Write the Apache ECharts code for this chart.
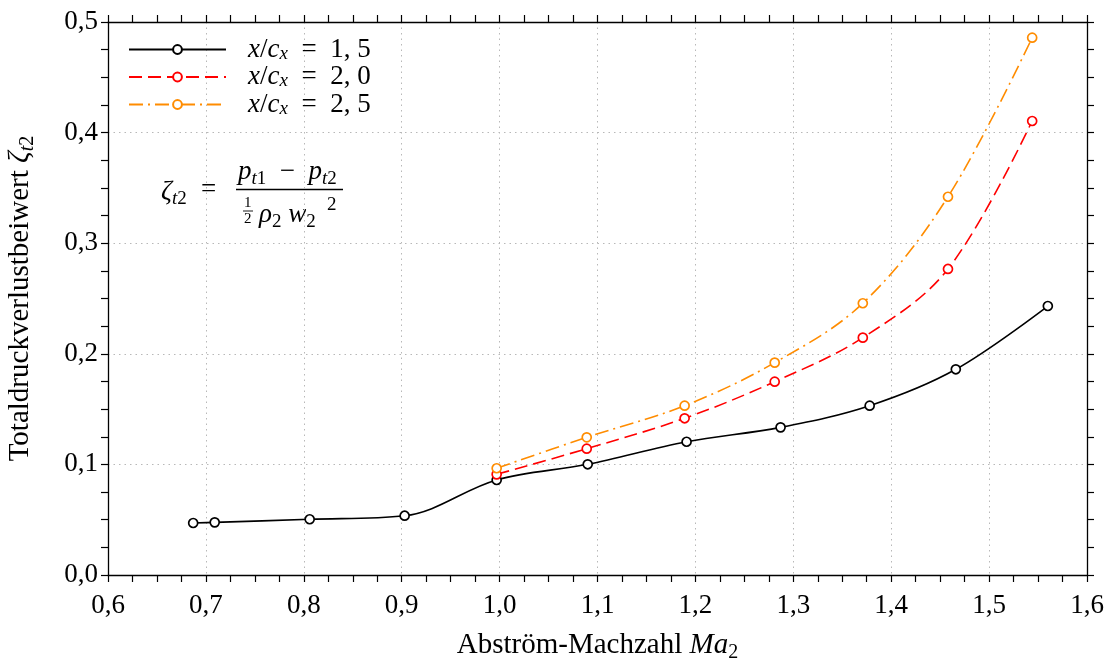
<!DOCTYPE html>
<html>
<head>
<meta charset="utf-8">
<script src="https://cdn.jsdelivr.net/npm/echarts@6/dist/echarts.min.js"></script>
<style>
  html, body { margin: 0; padding: 0; background: #fff; }
  #chart { width: 1114px; height: 660px; }
</style>
</head>
<body>
<div id="chart"></div>
<script>
// Total pressure loss coefficient over exit Mach number, three axial positions
const machA = [0.687, 0.709, 0.806, 0.903, 0.997, 1.090, 1.191, 1.287, 1.378, 1.466, 1.560];
const zetaA = [0.047, 0.0476, 0.0504, 0.0536, 0.0859, 0.1001, 0.1205, 0.1335, 0.1531, 0.1860, 0.2432];
const machB = [0.997, 1.089, 1.189, 1.281, 1.371, 1.458, 1.544];
const zetaB = [0.091, 0.1142, 0.1417, 0.1748, 0.2146, 0.2767, 0.4105];
const machC = [0.997, 1.089, 1.189, 1.281, 1.371, 1.458, 1.544];
const zetaC = [0.0965, 0.1245, 0.1531, 0.1920, 0.2457, 0.3420, 0.4858];
const seriesNames = ['1,5', '2,0', '2,5'];

const FONT = 'Liberation Serif';
const FS = 27;
const pairs = (xs, ys) => xs.map((x, i) => [x, ys[i]]);
const comma = v => (Math.round(v * 10) / 10).toFixed(1).replace('.', ',');

const chart = echarts.init(document.getElementById('chart'), null, { renderer: 'canvas' });

// rich-text styles for roman, italic, subscript
function makeRich(fs, lh, subFs, subLh) {
  return {
    r: { fontFamily: FONT, fontSize: fs, color: '#000', lineHeight: lh, verticalAlign: 'middle' },
    i: { fontFamily: FONT, fontSize: fs, fontStyle: 'italic', color: '#000', lineHeight: lh, verticalAlign: 'middle' },
    s: { fontFamily: FONT, fontSize: subFs, color: '#000', lineHeight: subLh, verticalAlign: 'bottom' },
    si: { fontFamily: FONT, fontSize: subFs, fontStyle: 'italic', color: '#000', lineHeight: subLh, verticalAlign: 'bottom' },
    sp: { width: 17, lineHeight: lh }
  };
}
const rich = makeRich(FS, 34, 19, 22);
const nameRich = makeRich(29, 36, 20, 23);
const legendRich = makeRich(FS, 27, 19, 18);

function lineSeries(name, data, color, type) {
  return {
    name: name,
    type: 'line',
    data: data,
    smooth: 0.35,
    symbol: 'circle',
    symbolSize: 9,
    showSymbol: true,
    lineStyle: { color: color, width: 1.6, type: type },
    itemStyle: { color: '#fff', borderColor: color, borderWidth: 1.7 },
    emphasis: { disabled: true },
    z: 3
  };
}

function frameAxis(extra) {
  return Object.assign({
    type: 'value',
    axisLine: { show: true, onZero: false, lineStyle: { color: '#000', width: 1.3 } },
    axisTick: { show: true, inside: false, length: 7, lineStyle: { color: '#000', width: 1.2 } },
    minorTick: { show: true, splitNumber: 4, length: 7, lineStyle: { color: '#000', width: 1.2 } },
    axisLabel: { show: false },
    splitLine: { show: false }
  }, extra);
}

const gridLine = { show: true, lineStyle: { color: '#b8b8b8', width: 1, type: [1.5, 4] } };

const option = {
  animation: false,
  backgroundColor: '#fff',
  grid: { left: 108, right: 27, top: 22, bottom: 85, containLabel: false, outerBoundsMode: 'none' },
  legend: {
    left: 123,
    top: 31,
    orient: 'vertical',
    itemWidth: 97,
    itemHeight: 11,
    itemGap: 0.5,
    selectedMode: false,
    data: seriesNames,
    formatter: n => '{sp|}{i|x}{r|/}{i|c}{si|x}{r|  =  ' + n.replace(',', ', ') + '}',
    textStyle: { rich: legendRich }
  },
  xAxis: [
    frameAxis({
      min: 0.6, max: 1.6, interval: 0.1, position: 'bottom',
      axisLabel: { show: true, formatter: comma, fontFamily: FONT, fontSize: FS, color: '#000', margin: 17 },
      splitLine: gridLine,
      name: '{r|Abström-Machzahl }{i|Ma}{s|2}',
      nameLocation: 'middle',
      nameGap: 52,
      nameTextStyle: { rich: nameRich }
    }),
    frameAxis({ min: 0.6, max: 1.6, interval: 0.1, position: 'top' })
  ],
  yAxis: [
    frameAxis({
      min: 0, max: 0.5, interval: 0.1, position: 'left',
      axisLabel: { show: true, formatter: comma, fontFamily: FONT, fontSize: FS, color: '#000', margin: 10 },
      splitLine: gridLine,
      name: '{r|Totaldruckverlustbeiwert }{i|ζ}{si|t}{s|2}',
      nameLocation: 'middle',
      nameRotate: 90,
      nameGap: 70,
      nameTextStyle: { rich: nameRich }
    }),
    frameAxis({ min: 0, max: 0.5, interval: 0.1, position: 'right' })
  ],
  series: [
    lineSeries(seriesNames[0], pairs(machA, zetaA), '#000000', 'solid'),
    lineSeries(seriesNames[1], pairs(machB, zetaB), '#ff0000', [13, 6]),
    lineSeries(seriesNames[2], pairs(machC, zetaC), '#ff8c00', [14, 5, 2, 5])
  ],
  graphic: [
    {
      type: 'group',
      left: 161,
      top: 158,
      children: [
        // left-hand side and equals sign
        { type: 'text', x: 0, y: 20, style: { rich: rich, text: '{i|ζ}{si|t}{s|2}' } },
        { type: 'text', x: 40, y: 18, style: { rich: rich, text: '{r|=}', fontSize: 30 } },
        // numerator
        { type: 'text', x: 77, y: 0, style: { rich: rich, text: '{i|p}{si|t}{s|1}{r|  −  }{i|p}{si|t}{s|2}' } },
        // fraction bar
        { type: 'line', shape: { x1: 75, y1: 35, x2: 182, y2: 35 }, style: { stroke: '#000', lineWidth: 1.3 } },
        // denominator: 1/2 rho_2 w_2^2
        { type: 'text', x: 83, y: 41, style: { text: '1', font: '15px "Liberation Serif"', fill: '#000' } },
        { type: 'line', shape: { x1: 82, y1: 56.5, x2: 92, y2: 56.5 }, style: { stroke: '#000', lineWidth: 0.9 } },
        { type: 'text', x: 83, y: 57, style: { text: '2', font: '15px "Liberation Serif"', fill: '#000' } },
        { type: 'text', x: 98, y: 43, style: { rich: rich, text: '{i|ρ}{s|2}{r| }{i|w}{s|2}' } },
        { type: 'text', x: 166, y: 41, style: { text: '2', font: '19px "Liberation Serif"', fill: '#000' } }
      ]
    }
  ]
};

chart.setOption(option);
</script>
</body>
</html>
